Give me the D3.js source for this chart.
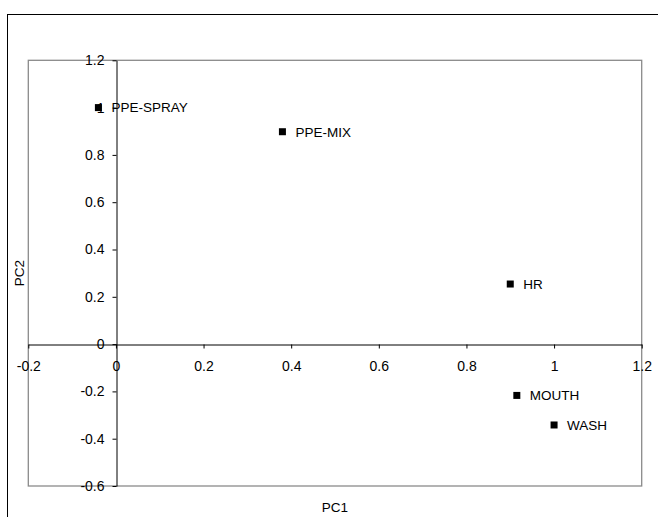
<!DOCTYPE html>
<html>
<head>
<meta charset="utf-8">
<script src="https://cdn.jsdelivr.net/npm/d3@7"></script>
<style>
  html, body { margin: 0; padding: 0; background: #fff; }
  svg { display: block; font-family: "Liberation Sans", Arial, sans-serif; }
</style>
</head>
<body>
<svg id="chart" width="658" height="517"></svg>
<script>
// Principal component loadings for each exposure variable
const variables = ["PPE-SPRAY", "PPE-MIX", "HR", "MOUTH", "WASH"];
const pc1 = [-0.04, 0.38, 0.90, 0.915, 1.0];
const pc2 = [1.0, 0.898, 0.254, -0.217, -0.342];

const xTicks = [-0.2, 0, 0.2, 0.4, 0.6, 0.8, 1.0, 1.2];
const xTickLabels = ["-0.2", "0", "0.2", "0.4", "0.6", "0.8", "1", "1.2"];
const yTicks = [-0.6, -0.4, -0.2, 0, 0.2, 0.4, 0.6, 0.8, 1.0, 1.2];
const yTickLabels = ["-0.6", "-0.4", "-0.2", "0", "0.2", "0.4", "0.6", "0.8", "1", "1.2"];

const svg = d3.select("#chart");

// Plot area bounds
const plot = { left: 28.3, top: 60.3, right: 641.7, bottom: 486 };

const x = d3.scaleLinear().domain([-0.2, 1.2]).range([plot.left, plot.right]);
const y = d3.scaleLinear().domain([-0.6, 1.2]).range([plot.bottom, plot.top]);

// Outer chart frame (runs off the right and bottom edges)
svg.append("rect")
  .attr("x", 7.5).attr("y", 14.5)
  .attr("width", 720).attr("height", 620)
  .attr("fill", "none").attr("stroke", "#000").attr("stroke-width", 1);

// Plot area border
svg.append("rect")
  .attr("x", plot.left).attr("y", plot.top)
  .attr("width", plot.right - plot.left).attr("height", plot.bottom - plot.top)
  .attr("fill", "#fff").attr("stroke", "#8a8a8a").attr("stroke-width", 1.3);

// Axes crossing at the origin
const xAxis = d3.axisBottom(x)
  .tickValues(xTicks)
  .tickFormat((d, i) => xTickLabels[i])
  .tickSize(4).tickSizeOuter(0).tickPadding(13);

const yAxis = d3.axisLeft(y)
  .tickValues(yTicks)
  .tickFormat((d, i) => yTickLabels[i])
  .tickSize(4).tickSizeOuter(0).tickPadding(8);

const gx = svg.append("g")
  .attr("transform", `translate(0,${Math.round(y(0)) + 0.5})`)
  .call(xAxis);
const gy = svg.append("g")
  .attr("transform", `translate(${Math.round(x(0)) + 0.5},0)`)
  .call(yAxis);

[gx, gy].forEach(g => {
  g.selectAll("path, line").attr("stroke", "#000").attr("stroke-width", 1);
  g.selectAll("text").attr("fill", "#000").style("font-size", "14px")
    .style("font-family", "\"Liberation Sans\", Arial, sans-serif");
});

// Axis titles
svg.append("text")
  .attr("x", (plot.left + plot.right) / 2).attr("y", 512)
  .attr("text-anchor", "middle").style("font-size", "13.5px")
  .text("PC1");

svg.append("text")
  .attr("transform", `translate(24,${(plot.top + plot.bottom) / 2}) rotate(-90)`)
  .attr("text-anchor", "middle").style("font-size", "13.5px")
  .text("PC2");

// Points and labels
const pts = variables.map((name, i) => ({ name, px: pc1[i], py: pc2[i] }));
const size = 7;

svg.append("g").selectAll("rect")
  .data(pts)
  .join("rect")
  .attr("x", d => x(d.px) - size / 2)
  .attr("y", d => y(d.py) - size / 2)
  .attr("width", size).attr("height", size)
  .attr("fill", "#000");

svg.append("g").selectAll("text")
  .data(pts)
  .join("text")
  .attr("x", d => x(d.px) + 13)
  .attr("y", d => y(d.py))
  .attr("dy", "0.36em")
  .style("font-size", "13.5px")
  .attr("fill", "#000")
  .text(d => d.name);
</script>
</body>
</html>
